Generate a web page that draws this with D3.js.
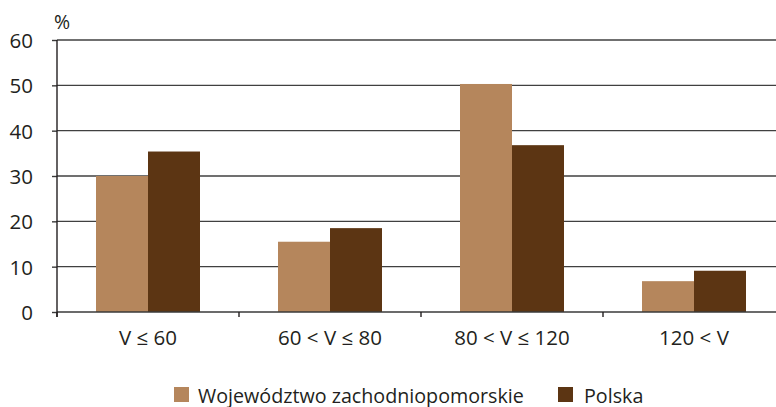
<!DOCTYPE html>
<html><head><meta charset="utf-8">
<script src="https://cdn.jsdelivr.net/npm/d3@7"></script>
<style>
html,body{margin:0;padding:0;background:#fff;}
svg text{font-family:"Open Sans",sans-serif;fill:#231f20;}
</style></head>
<body>
<svg id="c" width="776" height="407"></svg>
<script>
const categories = ["V ≤ 60", "60 < V ≤ 80", "80 < V ≤ 120", "120 < V"];
const seriesNames = ["Województwo zachodniopomorskie", "Polska"];
const zachodniopomorskie = [30.0, 15.5, 50.3, 6.8];
const polska = [35.4, 18.5, 36.8, 9.1];
const yTicks = [0, 10, 20, 30, 40, 50, 60];
const colors = ["#b5865c", "#5c3513"];

const svg = d3.select("#c");
const mLeft = 57, mTop = 40, mBottom = 312, step = 182;
const x0 = d3.scaleBand().domain(categories).range([mLeft, mLeft + step * categories.length]).paddingInner(0.4286).paddingOuter(0.2143);
const x1 = d3.scaleBand().domain(seriesNames).range([0, x0.bandwidth()]);
const y = d3.scaleLinear().domain([0, 60]).range([mBottom, mTop]);
const color = d3.scaleOrdinal().domain(seriesNames).range(colors);

// gridlines
const yAxis = d3.axisLeft(y).tickValues(yTicks).tickSize(5).tickPadding(19).tickFormat(d3.format("d"));
const gy = svg.append("g").attr("transform", `translate(${mLeft},0)`).call(yAxis);
gy.select(".domain").remove();
gy.selectAll(".tick line").attr("stroke", "#3a3a3a").attr("stroke-width", 1.4);
gy.selectAll(".tick text").style("font-size", "20.5px").attr("fill", "#231f20").attr("dy", "0.36em");
svg.append("g").selectAll("line").data(yTicks.filter(d => d > 0)).join("line")
  .attr("x1", mLeft).attr("x2", 776).attr("y1", d => y(d)).attr("y2", d => y(d))
  .attr("stroke", "#404040").attr("stroke-width", 1.4);

// bars
const data = categories.map((c, i) => ({cat: c, vals: [
  {s: seriesNames[0], v: zachodniopomorskie[i]}, {s: seriesNames[1], v: polska[i]}]}));
svg.append("g").selectAll("g").data(data).join("g")
  .attr("transform", d => `translate(${x0(d.cat)},0)`)
  .selectAll("rect").data(d => d.vals).join("rect")
  .attr("x", d => x1(d.s)).attr("width", x1.bandwidth())
  .attr("y", d => y(d.v)).attr("height", d => y(0) - y(d.v))
  .attr("fill", d => color(d.s));

// x axis
const bounds = d3.range(categories.length + 1).map(i => mLeft + i * step);
svg.append("line").attr("x1", mLeft).attr("x2", 776).attr("y1", y(0)).attr("y2", y(0))
  .attr("stroke", "#3a3a3a").attr("stroke-width", 1.4);
svg.append("g").selectAll("line").data(bounds).join("line")
  .attr("x1", d => d).attr("x2", d => d).attr("y1", y(0)).attr("y2", y(0) + 5)
  .attr("stroke", "#231f20").attr("stroke-width", 1.4);
svg.append("g").selectAll("text").data(categories).join("text")
  .attr("x", d => x0(d) + x0.bandwidth() / 2).attr("y", 345)
  .attr("text-anchor", "middle").style("font-size", "20.5px").text(d => d);

// y axis line
svg.append("line").attr("x1", mLeft).attr("x2", mLeft).attr("y1", mTop).attr("y2", y(0) + 5)
  .attr("stroke", "#231f20").attr("stroke-width", 1.4);

// unit
svg.append("text").attr("x", 54).attr("y", 29).style("font-size", "19.5px").text("%");

// legend
const legendX = [174, 558];
const lg = svg.append("g").selectAll("g").data(seriesNames).join("g")
  .attr("transform", (d, i) => `translate(${legendX[i]},387)`);
lg.append("rect").attr("width", 15).attr("height", 15).attr("fill", d => color(d));
lg.append("text").attr("x", (d, i) => i === 0 ? 24 : 26).attr("y", 15.5).style("font-size", "19.7px").text(d => d);
</script>
</body></html>
